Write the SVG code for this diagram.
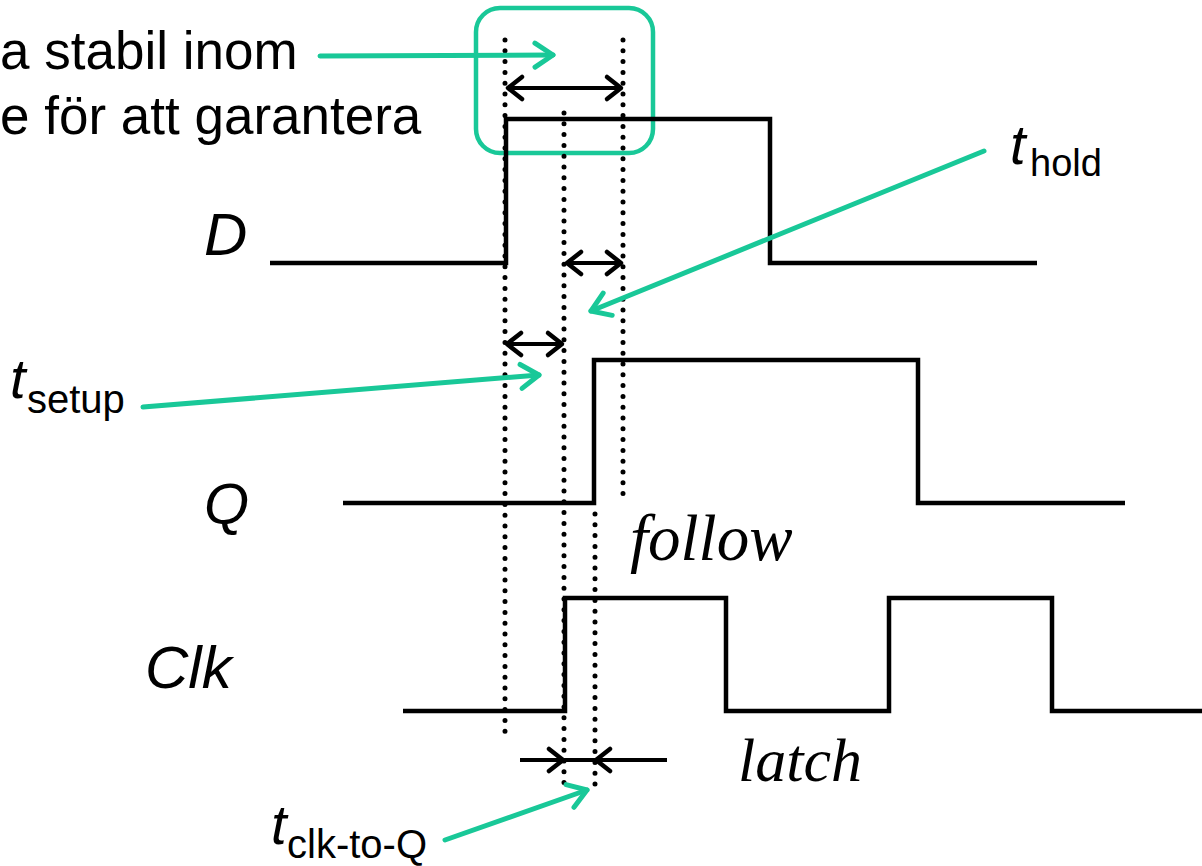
<svg xmlns="http://www.w3.org/2000/svg" width="1202" height="866" viewBox="0 0 1202 866">
<style>
.sig{fill:none;stroke:#000;stroke-width:4.5;stroke-linejoin:miter;stroke-linecap:butt}
.dot{fill:none;stroke:#000;stroke-width:5;stroke-linecap:round;stroke-dasharray:0 10.8}
.dim{fill:none;stroke:#000;stroke-width:4}
.teal{fill:none;stroke:#19C898;stroke-width:5;stroke-linecap:round}
.sans{font-family:"Liberation Sans",Arial,sans-serif;fill:#000}
.serif{font-family:"Liberation Serif","Times New Roman",serif;font-style:italic;fill:#000}
</style>
<defs>
<marker id="bh" markerUnits="userSpaceOnUse" markerWidth="30" markerHeight="30" viewBox="-20 -15 30 30" refX="0" refY="0" orient="auto-start-reverse">
<polyline points="-14,-11 0,0 -14,11" fill="none" stroke="#000" stroke-width="4.5" stroke-linecap="round" stroke-linejoin="round"/>
</marker>
<marker id="th" markerUnits="userSpaceOnUse" markerWidth="36" markerHeight="36" viewBox="-24 -18 36 36" refX="0" refY="0" orient="auto">
<polyline points="-18,-12 0,0 -18,12" fill="none" stroke="#19C898" stroke-width="5" stroke-linecap="round" stroke-linejoin="round"/>
</marker>
</defs>

<g id="highlight-box">
<rect x="476" y="8" width="177" height="145" rx="24" ry="24" fill="none" stroke="#19C898" stroke-width="4.5"/>
</g>

<g id="guides">
<line class="dot" x1="505" y1="40" x2="505" y2="742"/>
<line class="dot" x1="564" y1="113" x2="564" y2="792"/>
<line class="dot" x1="623" y1="40" x2="623" y2="500"/>
<line class="dot" x1="595" y1="514" x2="595" y2="790"/>
</g>

<g id="signal-D">
<polyline class="sig" points="270,263 506,263 506,119 770,119 770,263 1037,263"/>
<text class="sans" x="204" y="255" font-size="60" font-style="italic">D</text>
</g>
<g id="signal-Q">
<polyline class="sig" points="343,503 594,503 594,360 918,360 918,503 1125,503"/>
<text class="sans" x="204" y="524" font-size="58" font-style="italic">Q</text>
</g>
<g id="signal-Clk">
<polyline class="sig" points="403,711 565,711 565,598 726,598 726,711 889,711 889,598 1052,598 1052,711 1202,711"/>
<text class="sans" x="145" y="688" font-size="60" font-style="italic">Clk</text>
</g>

<g id="note">
<text class="sans" x="0" y="69" font-size="53">a stabil inom</text>
<text class="sans" x="0" y="134" font-size="53">e för att garantera</text>
</g>
<g id="label-follow"><text class="serif" x="630" y="560" font-size="65">follow</text></g>
<g id="label-latch"><text class="serif" x="738" y="781" font-size="62">latch</text></g>
<g id="label-thold"><text class="sans"><tspan x="1010" y="164" font-size="56" font-style="italic">t</tspan><tspan x="1030" y="176" font-size="38">hold</tspan></text></g>
<g id="label-tsetup"><text class="sans"><tspan x="10" y="398" font-size="56" font-style="italic">t</tspan><tspan x="27" y="413" font-size="40">setup</tspan></text></g>
<g id="label-tclk"><text class="sans"><tspan x="271" y="844" font-size="56" font-style="italic">t</tspan><tspan x="287" y="858" font-size="40">clk-to-Q</tspan></text></g>

<g id="connectors">
<line class="dim" x1="508" y1="88" x2="621" y2="88" marker-start="url(#bh)" marker-end="url(#bh)"/>
<line class="dim" x1="567" y1="263" x2="621" y2="263" marker-start="url(#bh)" marker-end="url(#bh)"/>
<line class="dim" x1="507" y1="344" x2="562" y2="344" marker-start="url(#bh)" marker-end="url(#bh)"/>
<line class="dim" x1="520" y1="760" x2="563" y2="760" marker-end="url(#bh)"/>
<line class="dim" x1="667" y1="760" x2="596" y2="760" marker-end="url(#bh)"/>
<line class="dim" x1="563" y1="760" x2="596" y2="760"/>
<line class="teal" x1="320" y1="56" x2="553" y2="55" marker-end="url(#th)"/>
<line class="teal" x1="984" y1="151" x2="591" y2="311" marker-end="url(#th)"/>
<line class="teal" x1="143" y1="407" x2="539" y2="375" marker-end="url(#th)"/>
<line class="teal" x1="445" y1="840" x2="587" y2="790" marker-end="url(#th)"/>
</g>
</svg>
